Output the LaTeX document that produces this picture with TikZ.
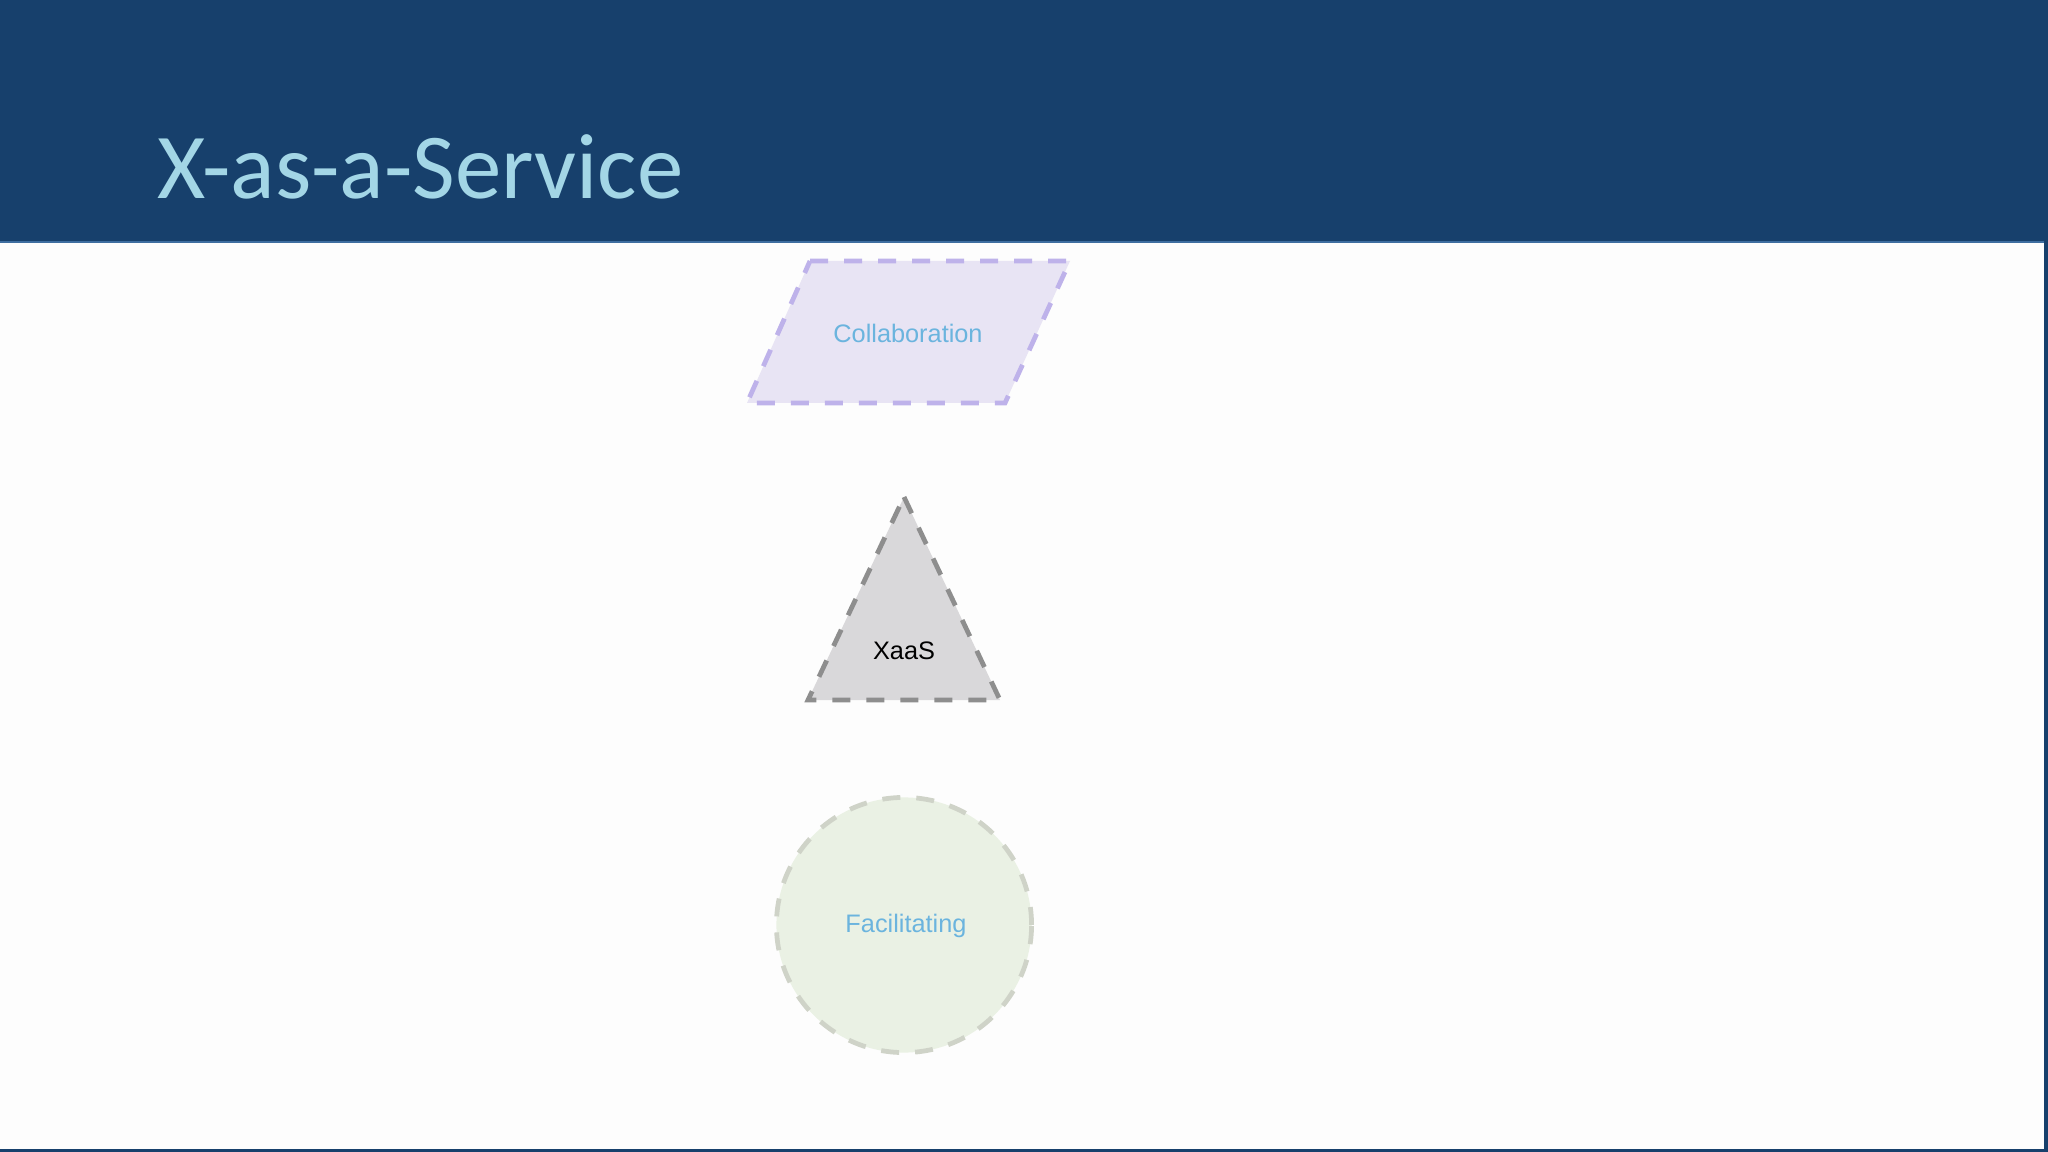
\documentclass[tikz,border=0pt]{standalone}
\usepackage{fontspec}
\setmainfont{Liberation Sans}
\newfontfamily\titlefont{Carlito}
\usetikzlibrary{positioning}

\definecolor{headerblue}{RGB}{23,64,108}
\definecolor{headerline}{RGB}{62,110,160}
\definecolor{titleblue}{RGB}{163,214,230}
\definecolor{pagewhite}{RGB}{253,253,253}
\definecolor{labelblue}{RGB}{107,180,222}
\definecolor{collabfill}{RGB}{232,228,244}
\definecolor{collabedge}{RGB}{190,178,234}
\definecolor{xaasfill}{RGB}{217,216,218}
\definecolor{xaasedge}{RGB}{142,142,142}
\definecolor{facilfill}{RGB}{234,241,228}
\definecolor{faciledge}{RGB}{207,211,200}

\tikzset{
    labeltext/.style={font=\fontsize{7.2}{8}\selectfont, text=labelblue, inner sep=0pt},
    dashedge/.style={line width=1.35pt, dash pattern=on 0.18cm off 0.16cm, line join=miter},
}

\begin{document}
\begin{tikzpicture}[x=0.01cm, y=-0.01cm]
    \useasboundingbox (0,0) rectangle (2048,1152);
    \fill[pagewhite] (0,0) rectangle (2048,1152);
    \fill[headerblue] (0,0) rectangle (2048,242);
    \draw[headerline, line width=0.6pt] (0,242) -- (2044,242);
    \fill[headerblue] (2044,242) rectangle (2048,1152);
    \fill[headerblue] (0,1149) rectangle (2048,1152);

    \node[anchor=base west, inner sep=0pt, text=titleblue,
          font=\titlefont\fontsize{26.4}{30}\selectfont] (title) at (157,199) {X-as-a-Service};

    % collaboration
    \coordinate (c1) at (810,261);
    \coordinate (c2) at (1070,261);
    \coordinate (c3) at (1005,403);
    \coordinate (c4) at (747,403);
    \filldraw[fill=collabfill, draw=collabedge, dashedge] (c1) -- (c2) -- (c3) -- (c4) -- cycle;
    \node[labeltext] (collab) at (908,333) {Collaboration};

    % xaas
    \coordinate (t1) at (904,497);
    \coordinate (t2) at (1000,700);
    \coordinate (t3) at (808,700);
    \filldraw[fill=xaasfill, draw=xaasedge, dashedge] (t1) -- (t2) -- (t3) -- cycle;
    \node[labeltext, text=black] (xaas) at (904,651) {XaaS};

    % facilitating
    \node[circle, minimum size=2.55cm, fill=facilfill, draw=faciledge, dashedge] (facilring) at (904,925) {};
    \node[labeltext] (facil) at (906,926) {Facilitating};
\end{tikzpicture}
\end{document}
